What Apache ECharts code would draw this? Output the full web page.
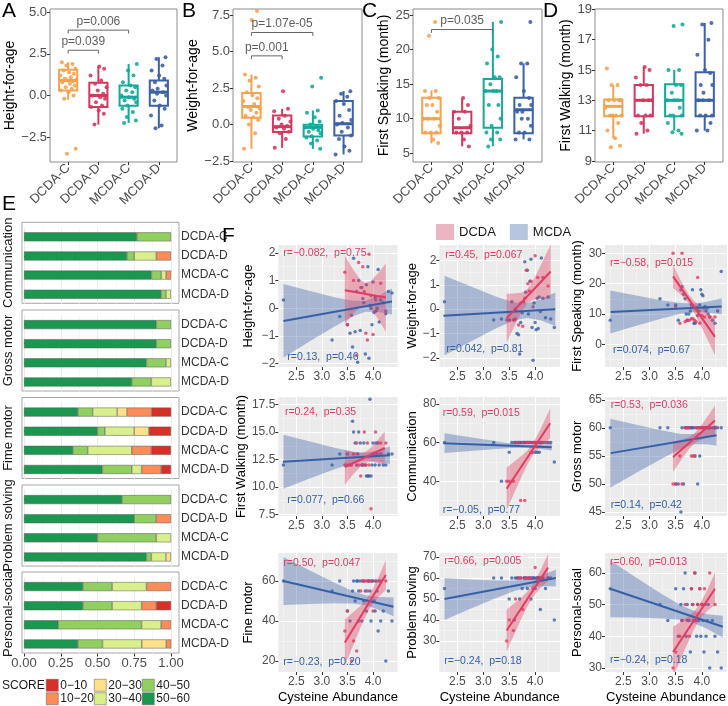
<!DOCTYPE html>
<html>
<head>
<meta charset="utf-8">
<script src="https://cdn.jsdelivr.net/npm/echarts@6/dist/echarts.min.js"></script>
<style>
html,body{margin:0;padding:0;background:#ffffff;}
#chart{width:728px;height:706px;}
</style>
</head>
<body>
<div id="chart"></div>
<script>
// ================= DATA =================
// ---- Panels A-D (box plots) ----
const groups = ['DCDA-C', 'DCDA-D', 'MCDA-C', 'MCDA-D'];

// [lower whisker, Q1, median, Q3, upper whisker]
const heightBox = [[-0.26, 0.3, 0.9, 1.55, 2.0], [-1.75, -0.7, 0.0, 0.77, 1.75], [-1.65, -0.62, -0.1, 0.6, 1.9], [-1.97, -0.62, 0.2, 0.9, 2.3]];
const heightPoints = [
  [2.0, 1.9, 1.8, 1.6, 1.5, 1.4, 1.3, 1.2, 1.1, 1.0, 0.95, 0.9, 0.85, 0.8, 0.7, 0.6, 0.5, 0.4, 0.3, 0.2, 0.0, -0.2, -3.2, -3.5],
  [1.75, 1.6, 1.2, 0.9, 0.7, 0.5, 0.3, 0.1, 0.0, -0.1, -0.2, -0.4, -0.6, -0.7, -0.9, -1.1, -1.75],
  [1.9, 1.5, 1.2, 0.8, 0.6, 0.5, 0.3, 0.2, 0.0, -0.1, -0.2, -0.3, -0.4, -0.6, -0.8, -1.0, -1.3, -1.5, -1.65],
  [2.3, 2.2, 1.8, 1.5, 1.2, 1.0, 0.8, 0.6, 0.4, 0.3, 0.2, 0.1, 0.0, -0.3, -0.6, -0.8, -1.2, -1.8, -1.97]
];
const heightSigPairs = [[1, 2], [1, 3]];
const heightSigY = [2.72, 3.93];
const heightSigText = ['p=0.039', 'p=0.006'];
const heightTicks = [-2.5, 0, 2.5, 5];

const weightBox = [[-1.67, 0.46, 1.23, 2.15, 3.42], [-1.6, -0.52, -0.15, 0.62, 1.07], [-1.67, -0.82, -0.2, -0.02, 0.96], [-2.05, -0.75, 0.05, 1.6, 2.28]];
const weightPoints = [
  [3.42, 3.2, 3.0, 2.6, 2.2, 2.0, 1.8, 1.6, 1.4, 1.2, 1.1, 1.0, 0.8, 0.6, 0.5, 0.3, 0.0, -0.6, -1.67, 7.16, 7.77],
  [2.28, 1.07, 0.9, 0.6, 0.4, 0.2, 0.0, -0.1, -0.2, -0.3, -0.5, -0.6, -1.0, -1.6],
  [3.2, 2.6, 0.96, 0.8, 0.5, 0.2, 0.0, -0.1, -0.2, -0.3, -0.4, -0.5, -0.6, -0.8, -0.9, -1.1, -1.3, -1.67],
  [2.28, 2.1, 1.9, 1.6, 1.4, 1.0, 0.6, 0.3, 0.1, 0.0, -0.2, -0.5, -0.75, -1.0, -1.5, -1.8, -2.05]
];
const weightSigPairs = [[1, 2], [1, 3]];
const weightSigY = [4.7, 6.3];
const weightSigText = ['p=0.001', 'p=1.07e-05'];
const weightTicks = [-2.5, 0, 2.5, 5, 7.5];

const speakBox = [[6.45, 7.9, 10.0, 13.05, 14.1], [6.0, 7.9, 8.7, 11.0, 12.9], [6.0, 8.7, 14.0, 15.75, 24.0], [7.0, 7.9, 11.3, 13.05, 18.0]];
const speakPoints = [
  [14, 14, 13, 13, 12, 12, 11, 10, 10, 10, 9, 8, 8, 8, 7, 6.5, 22, 24],
  [13, 12, 11, 11, 10, 9, 8, 8, 8, 7, 6],
  [24, 20, 19, 18, 16, 16, 15, 14, 14, 14, 12, 12, 10, 9, 8, 8, 7, 7, 6],
  [24, 18, 18, 16, 14, 13, 12, 12, 11, 11, 10, 10, 9, 8, 8, 7, 7]
];
const speakSigPairs = [[1, 3]];
const speakSigY = [22.9];
const speakSigText = ['p=0.035'];
const speakTicks = [5, 10, 15, 20, 25];

const walkBox = [[10.5, 11.95, 12.6, 13.05, 14.0], [10.8, 11.95, 13.0, 14.0, 15.2], [11.0, 11.95, 13.0, 14.05, 15.0], [11.0, 11.95, 13.0, 14.85, 18.1]];
const walkPoints = [
  [15.1, 14, 14, 13, 13, 13, 13, 12.5, 12, 12, 12, 12, 11.5, 11, 10.5, 10, 9.9],
  [15.2, 15, 14.5, 14, 14, 13, 13, 13, 12, 12, 12, 11.5, 11, 10.8],
  [18, 17.9, 15, 15, 14, 14, 13.5, 13, 13, 13, 12.5, 12, 12, 12, 11.5, 11, 10.9, 10.8],
  [18.1, 18, 17, 16, 15, 14.8, 14, 14, 13.5, 13, 13, 13, 12, 12, 12, 11.5, 11, 11]
];
const walkSigPairs = [];
const walkSigY = [];
const walkSigText = [];
const walkTicks = [9, 11, 13, 15, 17, 19];

// ---- Panel E (stacked score shares) ----
const scoreLevels = ['50\u221260', '40\u221250', '30\u221240', '20\u221230', '10\u221220', '0\u221210'];
const domains = ['Communication', 'Gross motor', 'Fime motor', 'Problem solving', 'Personal-social'];
// rows: DCDA-C, DCDA-D, MCDA-C, MCDA-D ; columns follow scoreLevels
const communicationShares = [[0.767, 0.233, 0, 0, 0, 0], [0.70, 0.05, 0.15, 0, 0.10, 0], [0.867, 0.067, 0.033, 0, 0.033, 0], [0.933, 0.033, 0.033, 0, 0, 0]];
const grossMotorShares = [[0.90, 0.10, 0, 0, 0, 0], [0.90, 0.10, 0, 0, 0, 0], [0.833, 0.133, 0.033, 0, 0, 0], [0.733, 0.133, 0.133, 0, 0, 0]];
const fineMotorShares = [[0.367, 0.10, 0.167, 0.067, 0.167, 0.133], [0.50, 0.05, 0.20, 0.10, 0, 0.15], [0.333, 0.10, 0.30, 0, 0.133, 0.133], [0.533, 0.20, 0.067, 0, 0.133, 0.067]];
const problemSolvingShares = [[0.667, 0.333, 0, 0, 0, 0], [0.75, 0.15, 0, 0, 0.10, 0], [0.50, 0.40, 0.10, 0, 0, 0], [0.833, 0.033, 0.10, 0.033, 0, 0]];
const personalSocialShares = [[0.40, 0.20, 0.233, 0, 0.167, 0], [0.40, 0.20, 0.20, 0, 0.10, 0.10], [0.233, 0.567, 0.133, 0, 0.067, 0], [0.367, 0.167, 0.267, 0.167, 0.033, 0]];

// ---- Panel F (correlations) ----
const xMCDA = [2.25, 3.2, 3.35, 3.5, 3.55, 3.6, 3.62, 3.65, 3.68, 3.7, 3.72, 3.75, 3.78, 3.8, 3.82, 3.85, 3.87, 3.9, 3.92, 3.94, 3.96, 3.98, 4.0, 4.02, 4.04, 4.06, 4.08, 4.1, 4.12, 4.15, 4.2, 4.25, 4.3, 4.37];
const xDCDA = [3.45, 3.5, 3.58, 3.62, 3.68, 3.72, 3.76, 3.8, 3.83, 3.86, 3.89, 3.92, 3.96, 4.0, 4.05, 4.15, 4.25];

const hfaM = [0.3, -1.15, -0.3, -0.6, -0.9, -1.4, 1.8, -0.85, 0.6, -1.95, 1.0, -0.8, 0.75, 0.35, 0.2, -1.65, 0.85, 1.5, -1.8, 0.1, 0.0, -0.6, 0.95, -0.15, 0.4, -0.1, 0.0, 1.4, -0.5, 0.3, 0.2, -0.2, 0.6, 0.55];
const hfaD = [1.3, -0.6, -0.25, 1.0, -1.7, 1.65, 0.75, 1.5, 0.6, -0.9, -1.15, 1.95, 0.45, -0.95, 0.3, 0.9, -0.1];
const wfaM = [0.3, -0.45, -0.4, -0.45, 0.3, -0.45, 0.0, -1.0, -1.05, -1.85, -0.55, -0.15, 0.3, 1.95, 0.7, 1.6, -0.2, 1.15, 2.05, -0.75, -2.1, 0.25, -0.55, -0.85, 0.45, -0.8, 0.5, -0.1, 2.1, 0.45, -0.35, 0.5, -0.4, -0.75];
const wfaD = [-0.45, -0.45, -0.45, -0.4, -0.65, 0.25, -0.7, 0.45, 1.6, 1.05, 0.75, 1.15, 0.1, 2.2, 1.3, 1.3, 0.95];
const speakM = [8, 15, 13, 13, 8, 18, 19, 16.5, 15, 10, 8, 10, 11, 13, 18, 7, 7, 12, 9.5, 11, 13, 18, 16.5, 16, 12, 12.5, 11, 12, 10, 9, 8, 7, 11, 24];
const speakD = [30, 12.5, 7, 30, 7.5, 8, 8, 8.5, 8.5, 8, 7.5, 22, 7, 9.5, 9, 9, 9];
const walkM = [12, 12, 13, 13, 12, 16, 15, 14, 12, 13, 15, 14, 12, 12, 14, 12, 11, 11, 11, 18, 11, 12, 14, 13, 12, 14, 13, 14, 12, 13, 12, 12, 13, 13];
const walkD = [12, 12, 12, 13, 14, 12, 11, 12, 15, 12, 14, 12, 8, 13, 15, 14, 14];
const commM = [60, 60, 40, 55, 60, 60, 60, 60, 60, 60, 60, 60, 60, 60, 60, 60, 60, 60, 60, 55, 60, 60, 55, 60, 55, 60, 55, 60, 60, 60, 60, 60, 60, 50];
const commD = [40, 40, 40, 60, 60, 30, 60, 30, 60, 60, 60, 55, 60, 60, 60, 60, 60];
const grossM = [60, 60, 60, 50, 50, 45, 60, 50, 60, 60, 60, 60, 60, 60, 60, 60, 55, 60, 50, 60, 55, 60, 60, 60, 60, 60, 60, 60, 60, 60, 60, 60, 60, 60];
const grossD = [50, 50, 55, 50, 60, 60, 60, 55, 55, 55, 60, 60, 60, 60, 60, 60, 60];
const fineM = [60, 55, 60, 45, 40, 55, 60, 50, 60, 60, 55, 60, 40, 60, 50, 55, 45, 60, 60, 55, 40, 60, 60, 50, 45, 60, 55, 35, 60, 40, 45, 20, 55, 40];
const fineD = [35, 45, 20, 30, 25, 40, 55, 60, 60, 60, 55, 60, 60, 45, 60, 60, 60];
const probM = [55, 60, 60, 50, 60, 40, 60, 60, 60, 50, 60, 55, 60, 60, 60, 55, 60, 60, 50, 60, 60, 60, 55, 60, 60, 60, 60, 45, 60, 60, 55, 60, 60, 40];
const probD = [30, 40, 35, 50, 60, 60, 45, 60, 60, 60, 60, 60, 55, 65, 60, 60, 60];
const persM = [55, 50, 45, 55, 40, 50, 45, 55, 60, 40, 50, 45, 35, 55, 50, 45, 60, 40, 50, 45, 55, 40, 50, 45, 35, 50, 40, 45, 50, 30, 45, 40, 35, 30];
const persD = [30, 35, 40, 45, 50, 45, 40, 55, 50, 60, 45, 50, 55, 50, 55, 60, 50];

// fitted lines [x1, y1, x2, y2]
const fitLineM = [[2.25, -0.46, 4.37, 0.24], [2.23, -0.27, 4.39, 0.0], [2.26, 10.7, 4.38, 12.5], [2.24, 12.3, 4.33, 12.9], [2.23, 59.7, 4.32, 57.6], [2.26, 55.5, 4.28, 58.7], [2.25, 60, 4.4, 47.1], [2.25, 50, 4.4, 60], [2.25, 55, 4.4, 43]];
const fitLineD = [[3.45, 0.65, 4.25, 0.385], [3.45, -0.37, 4.3, 1.55], [3.45, 22.4, 4.25, 2.5], [3.45, 11.8, 4.23, 13.55], [3.45, 36.1, 4.29, 70], [3.45, 54.82, 4.25, 61.3], [3.45, 29.2, 4.25, 63], [3.45, 35, 4.25, 65], [3.45, 35, 4.25, 55]];
// confidence bands [x, lower, upper]
const bandM = [
  [[2.25, -1.79, 0.87], [2.75, -1.21, 0.63], [3.25, -0.66, 0.40], [3.6, -0.30, 0.27], [3.85, -0.13, 0.27], [4.1, -0.14, 0.44], [4.37, -0.23, 0.71]],
  [[2.25, -1.9, 1.37], [2.75, -1.34, 0.94], [3.25, -0.79, 0.51], [3.6, -0.46, 0.27], [3.85, -0.36, 0.24], [4.1, -0.46, 0.40], [4.39, -0.69, 0.69]],
  [[2.25, 3.64, 17.74], [2.75, 6.16, 16.08], [3.25, 8.59, 14.49], [3.6, 10.07, 13.61], [3.85, 10.65, 13.45], [4.1, 10.5, 14.04], [4.38, 9.82, 15.18]],
  [[2.25, 9.84, 14.76], [2.75, 10.74, 14.16], [3.25, 11.61, 13.57], [3.6, 12.17, 13.21], [3.85, 12.41, 13.11], [4.1, 12.31, 13.35], [4.33, 12.09, 13.71]],
  [[2.25, 54.58, 64.78], [2.75, 55.63, 62.71], [3.25, 56.63, 60.71], [3.6, 57.2, 59.44], [3.85, 57.27, 58.87], [4.1, 56.7, 58.94], [4.32, 55.92, 59.28]],
  [[2.25, 49.33, 61.63], [2.75, 51.99, 60.55], [3.25, 54.61, 59.51], [3.6, 56.3, 58.92], [3.85, 57.1, 58.9], [4.1, 57.09, 59.71], [4.28, 56.81, 60.55]],
  [[2.25, 48, 72], [2.75, 48.55, 65.45], [3.25, 48.93, 59.07], [3.6, 48.8, 55], [3.85, 47.9, 52.9], [4.1, 45.8, 52], [4.4, 42.4, 51.8]],
  [[2.25, 40, 60], [2.75, 45.3, 59.3], [3.25, 50.47, 58.83], [3.6, 53.78, 58.78], [3.85, 55.44, 59.44], [4.1, 56.1, 61.1], [4.4, 56.1, 63.9]],
  [[2.25, 46, 64], [2.75, 45.9, 58.5], [3.25, 45.6, 53.2], [3.6, 45.17, 49.77], [3.85, 44.07, 48.07], [4.1, 42.37, 46.97], [4.4, 39.5, 46.5]]
];
const bandD = [
  [[3.45, -0.59, 1.89], [3.6, -0.23, 1.43], [3.75, 0.06, 1.04], [3.85, 0.13, 0.91], [3.95, -0.005, 0.975], [4.1, -0.395, 1.265], [4.25, -0.855, 1.625]],
  [[3.45, -1.37, 0.63], [3.6, -0.70, 0.64], [3.75, -0.07, 0.69], [3.85, 0.23, 0.83], [3.95, 0.38, 1.14], [4.1, 0.43, 1.77], [4.3, 0.43, 2.67]],
  [[3.45, 18.6, 26.2], [3.6, 16.37, 20.97], [3.75, 13.4, 16.4], [3.85, 10.55, 14.35], [3.95, 7.18, 12.72], [4.1, 1.85, 10.55], [4.25, -3.5, 8.5]],
  [[3.45, 10.2, 13.4], [3.6, 11.07, 13.21], [3.75, 11.84, 13.1], [3.85, 12.2, 13.2], [3.95, 12.29, 13.55], [4.1, 12.19, 14.33], [4.23, 12.02, 15.08]],
  [[3.45, 25.1, 47.1], [3.6, 34.15, 50.15], [3.75, 43.0, 53.4], [3.85, 48.58, 55.92], [3.95, 53.3, 59.3], [4.1, 57.98, 66.72], [4.29, 62.2, 77.8]],
  [[3.45, 52.12, 57.52], [3.6, 54.21, 57.87], [3.75, 56.15, 58.35], [3.85, 57.16, 58.96], [3.95, 57.77, 59.97], [4.1, 58.26, 61.92], [4.25, 58.6, 64.0]],
  [[3.45, 17.55, 40.85], [3.6, 27.1, 44.1], [3.75, 36.24, 47.56], [3.85, 41.95, 50.25], [3.95, 46.85, 53.85], [4.1, 51.86, 61.54], [4.25, 55.5, 70.5]],
  [[3.45, 25, 45], [3.6, 33.3, 47.9], [3.75, 41.4, 51.1], [3.85, 46.44, 53.56], [3.95, 50.75, 56.75], [4.1, 55.25, 63.55], [4.25, 58.55, 71.45]],
  [[3.45, 27, 43], [3.6, 32.95, 44.55], [3.75, 38.6, 46.4], [3.85, 42.15, 47.85], [3.95, 45.1, 49.9], [4.1, 47.95, 54.55], [4.25, 49.9, 60.1]]
];
const fTitles = ['Height-for-age', 'Weight-for-age', 'First Speaking (month)', 'First Walking (month)', 'Communication', 'Gross motor', 'Fine motor', 'Problem solving', 'Personal-social'];
const fRedText = ['r=\u22120.082,  p=0.75', 'r=0.45,  p=0.067', 'r=\u22120.58,  p=0.015', 'r=0.24,  p=0.35', 'r=0.59,  p=0.015', 'r=0.53,  p=0.036', 'r=0.50,  p=0.047', 'r=0.66,  p=0.005', 'r=0.60,  p=0.013'];
const fBlueText = ['r=0.13,  p=0.46', 'r=0.042,  p=0.81', 'r=0.074,  p=0.67', 'r=0.077,  p=0.66', 'r=\u22120.05,  p=0.77', 'r=0.14,  p=0.42', 'r=\u22120.23,  p=0.20', 'r=\u22120.24,  p=0.18', 'r=\u22120.24,  p=0.18'];
const fXTitle = 'Cysteine Abundance';
const fXTicks = [2.5, 3.0, 3.5, 4.0];
const fYTicks = [[-2, -1, 0, 1, 2], [-2, -1, 0, 1, 2], [0, 10, 20, 30], [7.5, 10, 12.5, 15, 17.5], [40, 60, 80], [45, 50, 55, 60, 65], [20, 40, 60], [30, 40, 50, 60, 70], [30, 40, 50, 60]];

// ================= STYLE / LAYOUT =================
const FONT = '"Liberation Sans", Arial, Helvetica, sans-serif';
const AXT = '#4D4D4D';
const groupColors = ['#F6A24E', '#D7375D', '#16A89A', '#3B61A9'];
const scoreColors = ['#1A9850', '#91CF60', '#D9EF8B', '#FEE08B', '#FC8D59', '#D73027'];
const jitterOffsets = [-0.21, 0.14, -0.06, 0.24, -0.15, 0.03, 0.19, -0.26, 0.09, -0.11, 0.27, -0.02, 0.16, -0.19, 0.06, 0.22, -0.08, 0.12, -0.24, 0.01, 0.18, -0.13, 0.25, -0.04];
const RED = '#E23A60', BLUE = '#3560A8';
const RED_BAND = 'rgba(226,60,95,0.38)', BLUE_BAND = 'rgba(61,98,170,0.38)';

const option = {animation: false, backgroundColor: '#ffffff', textStyle: {fontFamily: FONT},
  grid: [], xAxis: [], yAxis: [], series: [], legend: [], graphic: []};
function addGrid(g) { option.grid.push(g); return option.grid.length - 1; }
function addX(a) { option.xAxis.push(a); return option.xAxis.length - 1; }
function addY(a) { option.yAxis.push(a); return option.yAxis.length - 1; }
function fmtNum(v, dec) { const s = Math.abs(v).toFixed(dec); return (v < -1e-9 ? '\u2212' : '') + s; }
function addText(x, y, str, size, color, extra) {
  option.graphic.push({type: 'text', x: x, y: y, silent: true, z: 100,
    style: Object.assign({text: str, fill: color || '#000', fontSize: size, fontFamily: FONT}, extra || {})});
}

// ---------- A-D ----------
const boxPanels = [
  {title: 'Height-for-age', box: heightBox, pts: heightPoints, ticks: heightTicks, dec: 1, min: -4.0, max: 5.2, left: 50, width: 127, nameGap: 30, sp: heightSigPairs, sy: heightSigY, st: heightSigText},
  {title: 'Weight-for-age', box: weightBox, pts: weightPoints, ticks: weightTicks, dec: 1, min: -2.57, max: 7.91, left: 233, width: 129, nameGap: 30, sp: weightSigPairs, sy: weightSigY, st: weightSigText},
  {title: 'First Speaking (month)', box: speakBox, pts: speakPoints, ticks: speakTicks, dec: 0, min: 3.74, max: 25.87, left: 413, width: 129, nameGap: 22, sp: speakSigPairs, sy: speakSigY, st: speakSigText},
  {title: 'First Walking (month)', box: walkBox, pts: walkPoints, ticks: walkTicks, dec: 0, min: 8.93, max: 19.02, left: 595, width: 128, nameGap: 22, sp: walkSigPairs, sy: walkSigY, st: walkSigText}
];
boxPanels.forEach(function (p) {
  const gi = addGrid({left: p.left, top: 9, width: p.width, height: 153, show: true, backgroundColor: '#fff', borderColor: '#8c8c8c', borderWidth: 1});
  const xi = addX({gridIndex: gi, type: 'value', position: 'bottom', min: 0.4, max: 4.6, axisLine: {show: false, onZero: false}, splitLine: {show: false},
    axisTick: {show: true, customValues: [1, 2, 3, 4], length: 3, lineStyle: {color: '#333'}},
    axisLabel: {customValues: [1, 2, 3, 4], formatter: function (v) { return groups[Math.round(v) - 1]; }, rotate: 45, fontSize: 13, color: AXT, margin: 4, fontFamily: FONT}});
  const yi = addY({gridIndex: gi, type: 'value', position: 'left', min: p.min, max: p.max, axisLine: {show: false, onZero: false}, splitLine: {show: false},
    axisTick: {show: true, customValues: p.ticks, length: 3, lineStyle: {color: '#333'}},
    axisLabel: {customValues: p.ticks, formatter: function (v) { return fmtNum(v, p.dec); }, fontSize: 13, color: AXT, margin: 3, fontFamily: FONT},
    name: p.title, nameLocation: 'middle', nameGap: p.nameGap, nameTextStyle: {fontSize: 14, color: '#000', fontFamily: FONT}});
  option.series.push({type: 'custom', xAxisIndex: xi, yAxisIndex: yi, z: 2, silent: true,
    data: p.box.map(function (b, i) { return [i + 1].concat(b); }),
    encode: {x: 0, y: [1, 2, 3, 4, 5]},
    renderItem: function (params, api) {
      const c = api.value(0), color = groupColors[params.dataIndex];
      const lo = api.coord([c, api.value(1)]), q1 = api.coord([c, api.value(2)]), md = api.coord([c, api.value(3)]);
      const q3 = api.coord([c, api.value(4)]), hi = api.coord([c, api.value(5)]);
      const xl = api.coord([c - 0.3, 0])[0], xr = api.coord([c + 0.3, 0])[0];
      return {type: 'group', children: [
        {type: 'line', shape: {x1: hi[0], y1: hi[1], x2: q3[0], y2: q3[1]}, style: {stroke: color, lineWidth: 2}},
        {type: 'line', shape: {x1: q1[0], y1: q1[1], x2: lo[0], y2: lo[1]}, style: {stroke: color, lineWidth: 2}},
        {type: 'rect', shape: {x: xl, y: q3[1], width: xr - xl, height: q1[1] - q3[1]}, style: {fill: '#fff', stroke: color, lineWidth: 2}},
        {type: 'line', shape: {x1: xl, y1: md[1], x2: xr, y2: md[1]}, style: {stroke: color, lineWidth: 3}}
      ]};
    }});
  p.pts.forEach(function (arr, i) {
    option.series.push({type: 'scatter', xAxisIndex: xi, yAxisIndex: yi, z: 3, silent: true, symbolSize: 4,
      itemStyle: {color: groupColors[i], opacity: 0.9},
      data: arr.map(function (v, j) { return [i + 1 + jitterOffsets[(j + i * 5) % jitterOffsets.length], v]; })});
  });
  const d = (p.max - p.min) * 0.022;
  p.sp.forEach(function (pair, k) {
    const a = pair[0], b = pair[1], y = p.sy[k];
    option.series.push({type: 'line', xAxisIndex: xi, yAxisIndex: yi, z: 4, silent: true, symbol: 'none',
      lineStyle: {color: '#666', width: 1}, data: [[a, y - d], [a, y], [b, y], [b, y - d]]});
    option.series.push({type: 'scatter', xAxisIndex: xi, yAxisIndex: yi, z: 4, silent: true, symbolSize: 1,
      itemStyle: {color: 'rgba(0,0,0,0)'},
      label: {show: true, position: 'top', distance: 2, formatter: p.st[k], fontSize: 12, color: '#333', fontFamily: FONT},
      data: [[(a + b) / 2, y]]});
  });
});

// ---------- E ----------
const domainShares = [communicationShares, grossMotorShares, fineMotorShares, problemSolvingShares, personalSocialShares];
const eTops = [222.3, 310, 397.5, 485, 572];
domainShares.forEach(function (shares, d) {
  const ft = eTops[d];
  const fg = addGrid({left: 22, top: ft, width: 157, height: 81, show: true, backgroundColor: '#fff', borderColor: '#a6a6a6', borderWidth: 1});
  addX({gridIndex: fg, type: 'value', min: 0, max: 1, show: false});
  addY({gridIndex: fg, type: 'value', min: 0, max: 1, axisLine: {show: false}, axisTick: {show: false}, axisLabel: {show: false}, splitLine: {show: false},
    name: domains[d], nameLocation: 'middle', nameRotate: 90, nameGap: 7, nameTextStyle: {fontSize: 13, color: '#1a1a1a', fontFamily: FONT}});
  const bg = addGrid({left: 24, top: ft + 5, width: 147, height: 76.5});
  const last = d === domainShares.length - 1;
  const bx = addX({gridIndex: bg, type: 'value', min: 0, max: 1, interval: 0.25, axisLine: {show: false},
    axisTick: {show: last, length: 3, lineStyle: {color: '#333'}},
    axisLabel: {show: last, formatter: function (v) { return v.toFixed(2); }, fontSize: 13, color: AXT, margin: 3, fontFamily: FONT},
    splitLine: {show: true, lineStyle: {color: '#EBEBEB', width: 1}},
    minorTick: {show: false, splitNumber: 2}, minorSplitLine: {show: true, lineStyle: {color: '#F2F2F2', width: 0.6}}});
  const by = addY({gridIndex: bg, type: 'category', data: groups, inverse: true, position: 'right', offset: 8,
    axisLine: {show: false}, axisTick: {show: true, alignWithLabel: true, length: 3, lineStyle: {color: '#333'}},
    axisLabel: {fontSize: 12, color: '#333', margin: 2, fontFamily: FONT}, splitLine: {show: false}});
  scoreLevels.forEach(function (lvl, k) {
    option.series.push({type: 'bar', name: lvl, xAxisIndex: bx, yAxisIndex: by, stack: 's' + d, barWidth: 9, z: 2, silent: true,
      itemStyle: {color: scoreColors[k], borderColor: '#595959', borderWidth: 0.5},
      data: shares.map(function (r) { return r[k] > 0 ? r[k] : null; })});
  });
});
const legendCols = [[5, 4], [3, 2], [1, 0]];
const legendLeft = [46, 94, 142];
legendCols.forEach(function (col, c) {
  option.legend.push({orient: 'vertical', left: legendLeft[c], top: 679, padding: 0, itemWidth: 12, itemHeight: 12, itemGap: 1,
    selectedMode: false, icon: 'rect', textStyle: {fontSize: 12, color: '#1a1a1a', fontFamily: FONT, padding: [0, 0, 0, -3]},
    itemStyle: {borderColor: '#595959', borderWidth: 0.5},
    data: col.map(function (k) { return scoreLevels[k]; })});
});
addText(2, 680, 'SCORE', 12, '#1a1a1a');

// ---------- F ----------
const fColLeft = [278.3, 439.3, 605];
const fColWidth = [119.3, 120.7, 122];
const fRowTop = [245, 397, 553];
const fRowHeight = [122, 119, 119];
const fYRange = [[-2.12, 2.28], [-2.38, 2.64], [-7.4, 32.7], [7.35, 18.2], [22, 83.6], [44.3, 65.5], [14.5, 74], [15.2, 71.9], [28.7, 66.3]];
const fYDec = [0, 0, 0, 1, 0, 0, 0, 0, 0];
const fNameGap = [23.5, 19.5, 21.5, 26.5, 20.5, 21.5, 23.5, 20.5, 21.5];
const fRedPos = [[5, 8], [6, 10], [5, 18], [6.6, 14.7], [3.4, 16], [5.7, 8], [5, 10], [5, 8], [5, 9]];
const fBluePos = [[9, -10], [7, -18], [8, -17], [9, -15.7], [3.4, -6], [5.7, -11], [5, -10], [5, -11], [5, -12]];
const fYM = [hfaM, wfaM, speakM, walkM, commM, grossM, fineM, probM, persM];
const fYD = [hfaD, wfaD, speakD, walkD, commD, grossD, fineD, probD, persD];
const X_MIN = 2.15, X_MAX = 4.48;

function minorsOf(ticks, lo, hi) {
  const step = ticks[1] - ticks[0], out = [];
  for (let i = -1; i < ticks.length; i++) {
    const v = (i < 0 ? ticks[0] - step / 2 : ticks[i] + step / 2);
    if (v > lo && v < hi) out.push(v);
  }
  return out;
}
function bandRenderer(rows, fill) {
  return function (params, api) {
    const up = rows.map(function (r) { return api.coord([r[0], r[2]]); });
    const dn = rows.slice().reverse().map(function (r) { return api.coord([r[0], r[1]]); });
    return {type: 'polygon', shape: {points: up.concat(dn)}, style: {fill: fill, stroke: 'none'}};
  };
}

for (let pi = 0; pi < 9; pi++) {
  const r = Math.floor(pi / 3), c = pi % 3;
  const left = fColLeft[c], top = fRowTop[r], w = fColWidth[c], h = fRowHeight[r];
  const ymin = fYRange[pi][0], ymax = fYRange[pi][1];
  const bottomRow = r === 2;
  const g = addGrid({left: left, top: top, width: w, height: h, show: true, backgroundColor: '#EBEBEB', borderWidth: 0});
  const xi = addX({gridIndex: g, type: 'value', position: 'bottom', min: X_MIN, max: X_MAX, axisLine: {show: false, onZero: false},
    axisTick: {show: true, customValues: fXTicks, length: 3, lineStyle: {color: '#333'}},
    axisLabel: {show: !bottomRow, customValues: fXTicks, formatter: function (v) { return v.toFixed(1); }, fontSize: 12, color: AXT, margin: 4, fontFamily: FONT},
    splitLine: {show: true, lineStyle: {color: '#FFFFFF', width: 1.1}}});
  const yi = addY({gridIndex: g, type: 'value', position: 'left', min: ymin, max: ymax, axisLine: {show: false, onZero: false},
    axisTick: {show: true, customValues: fYTicks[pi], length: 3, lineStyle: {color: '#333'}},
    axisLabel: {customValues: fYTicks[pi], formatter: function (v) { return fmtNum(v, fYDec[pi]); }, fontSize: 12, color: AXT, margin: 3, fontFamily: FONT},
    splitLine: {show: true, lineStyle: {color: '#FFFFFF', width: 1.1}},
    name: fTitles[pi], nameLocation: 'middle', nameGap: fNameGap[pi], nameTextStyle: {fontSize: 13, color: '#000', fontFamily: FONT}});
  // minor grid axes (no labels, no ticks)
  addX({gridIndex: g, type: 'value', position: 'top', min: X_MIN, max: X_MAX, axisLine: {show: false, onZero: false}, axisLabel: {show: false},
    axisTick: {show: false, customValues: minorsOf(fXTicks, X_MIN, X_MAX)}, splitLine: {show: true, lineStyle: {color: '#F7F7F7', width: 0.6}}});
  addY({gridIndex: g, type: 'value', position: 'right', min: ymin, max: ymax, axisLine: {show: false, onZero: false}, axisLabel: {show: false},
    axisTick: {show: false, customValues: minorsOf(fYTicks[pi], ymin, ymax)}, splitLine: {show: true, lineStyle: {color: '#F7F7F7', width: 0.6}}});

  option.series.push({type: 'scatter', name: 'MCDA', xAxisIndex: xi, yAxisIndex: yi, z: 2, silent: true, symbolSize: 3.5,
    itemStyle: {color: BLUE}, data: xMCDA.map(function (x, i) { return [x, fYM[pi][i]]; })});
  option.series.push({type: 'scatter', name: 'DCDA', xAxisIndex: xi, yAxisIndex: yi, z: 2, silent: true, symbolSize: 3.5,
    itemStyle: {color: RED}, data: xDCDA.map(function (x, i) { return [x, fYD[pi][i]]; })});
  option.series.push({type: 'custom', name: 'MCDA', xAxisIndex: xi, yAxisIndex: yi, z: 3, silent: true, clip: true,
    data: [[bandM[pi][0][0], bandM[pi][0][1]]], encode: {x: 0, y: 1}, renderItem: bandRenderer(bandM[pi], BLUE_BAND)});
  option.series.push({type: 'custom', name: 'DCDA', xAxisIndex: xi, yAxisIndex: yi, z: 3, silent: true, clip: true,
    data: [[bandD[pi][0][0], bandD[pi][0][1]]], encode: {x: 0, y: 1}, renderItem: bandRenderer(bandD[pi], RED_BAND)});
  const lm = fitLineM[pi], ld = fitLineD[pi];
  option.series.push({type: 'line', name: 'MCDA', xAxisIndex: xi, yAxisIndex: yi, z: 4, silent: true, symbol: 'none',
    lineStyle: {color: BLUE, width: 2}, data: [[lm[0], lm[1]], [lm[2], lm[3]]]});
  option.series.push({type: 'line', name: 'DCDA', xAxisIndex: xi, yAxisIndex: yi, z: 4, silent: true, symbol: 'none',
    lineStyle: {color: RED, width: 2}, data: [[ld[0], ld[1]], [ld[2], ld[3]]]});
  if (bottomRow) {
    // bottom-row tick labels placed along the same linear x-scale as the axis
    fXTicks.forEach(function (t) {
      const px = left + (t - X_MIN) / (X_MAX - X_MIN) * w;
      addText(px, top + h + 4, t.toFixed(1), 12, AXT, {align: 'center', verticalAlign: 'top'});
    });
    addText(left + w / 2, top + h + 25, fXTitle, 13, '#000', {align: 'center', verticalAlign: 'middle'});
  }

  addText(left + fRedPos[pi][0], top + fRedPos[pi][1], fRedText[pi], 10.5, RED, {verticalAlign: 'middle'});
  addText(left + fBluePos[pi][0], top + h + fBluePos[pi][1], fBlueText[pi], 10.5, BLUE, {verticalAlign: 'middle'});
}
option.legend.push({left: 436, top: 224, padding: 0, itemWidth: 18, itemHeight: 16, itemGap: 14, selectedMode: false,
  textStyle: {fontSize: 13, color: '#1a1a1a', fontFamily: FONT},
  data: [{name: 'DCDA', icon: 'rect', itemStyle: {color: '#E8A3B4'}}, {name: 'MCDA', icon: 'rect', itemStyle: {color: '#A6B6D6'}}]});

// panel letters
addText(2, 1, 'A', 21, '#000');
addText(182, 1, 'B', 21, '#000');
addText(362, 1, 'C', 21, '#000');
addText(543, 1, 'D', 21, '#000');
addText(2, 194, 'E', 21, '#000');
addText(222, 226, 'F', 21, '#000');

const chart = echarts.init(document.getElementById('chart'), null, {renderer: 'canvas'});
chart.setOption(option);
</script>
</body>
</html>
